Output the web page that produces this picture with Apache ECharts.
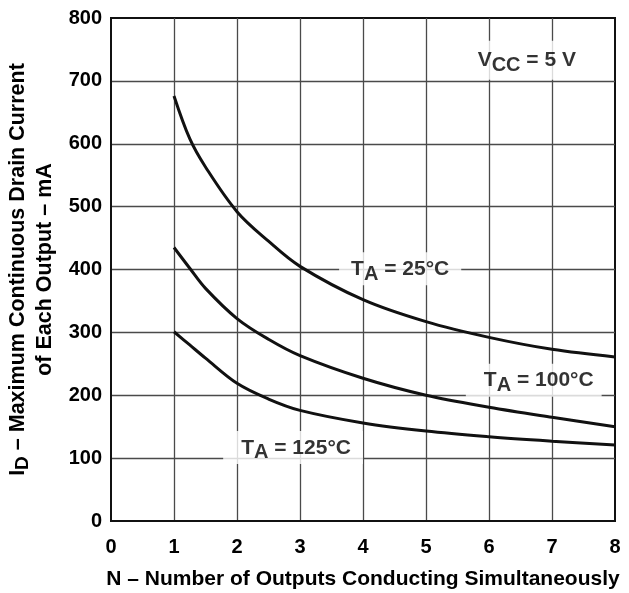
<!DOCTYPE html>
<html>
<head>
<meta charset="utf-8">
<script src="https://cdn.jsdelivr.net/npm/echarts@6/dist/echarts.min.js"></script>
<style>
  html, body { margin: 0; padding: 0; background: #fff; }
  #chart { width: 629px; height: 593px; }
</style>
</head>
<body>
<div id="chart"></div>
<script>
  // readings from the figure
  const outputsN = [1, 1.25, 1.5, 2, 2.5, 3, 4, 5, 6, 7, 8];
  const ta25 = [676, 608, 563, 492, 445, 405, 352, 317, 292, 273, 261];
  const ta100 = [435, 402, 370, 322, 289, 263, 227, 200, 181, 165, 150];
  const ta125 = [301, 280, 259, 219, 194, 176, 156, 143, 134, 127, 121];
  const xTicks = [0, 1, 2, 3, 4, 5, 6, 7, 8];
  const yTicks = [0, 100, 200, 300, 400, 500, 600, 700, 800];

  // annotation anchors in data units
  const notes = [
    { name: 'ta25', at: [4.59, 401], main: 'T', sub: 'A', rest: ' = 25°C', pad: [2, 12, 1, 12] },
    { name: 'ta100', at: [6.71, 224], main: 'T', sub: 'A', rest: ' = 100°C', pad: [2, 8, 1, 18] },
    { name: 'ta125', at: [2.89, 117], main: 'T', sub: 'A', rest: ' = 125°C', pad: [2, 12, 1, 18] },
    { name: 'vcc', at: [6.6, 733], main: 'V', sub: 'CC', rest: ' = 5 V', pad: [5, 12, 4, 12] }
  ];

  const FONT = '"Liberation Sans", Arial, Helvetica, sans-serif';

  function pairs(ys) {
    return outputsN.map(function (x, i) { return [x, ys[i]]; });
  }

  function curve(name, ys) {
    return {
      name: name,
      type: 'line',
      data: pairs(ys),
      smooth: 0.35,
      showSymbol: false,
      lineStyle: { color: '#111', width: 3 },
      z: 3,
      silent: true
    };
  }

  const noteRich = {
    m: { fontFamily: FONT, fontWeight: 'bold', fontSize: 21, color: '#000', lineHeight: 30 },
    s: { fontFamily: FONT, fontWeight: 'bold', fontSize: 20, color: '#000', lineHeight: 16, verticalAlign: 'bottom' }
  };

  const myChart = echarts.init(document.getElementById('chart'), null, { renderer: 'canvas' });
  const option = {
    backgroundColor: '#fff',
    animation: false,
    grid: {
      left: 111, right: 14, top: 18, bottom: 72,
      containLabel: false,
      outerBoundsMode: 'none',
      show: true,
      borderColor: '#111',
      borderWidth: 2
    },
    xAxis: {
      type: 'value',
      min: xTicks[0],
      max: xTicks[xTicks.length - 1],
      interval: 1,
      name: 'N – Number of Outputs Conducting Simultaneously',
      nameLocation: 'middle',
      nameGap: 48,
      nameTextStyle: { fontFamily: FONT, fontWeight: 'bold', fontSize: 21, color: '#000' },
      axisLine: { lineStyle: { color: '#111', width: 2 } },
      axisTick: { show: false },
      axisLabel: { fontFamily: FONT, fontWeight: 'bold', fontSize: 20, color: '#000', margin: 16 },
      splitLine: { show: true, showMinLine: false, showMaxLine: false, lineStyle: { color: '#4a4a4a', width: 1.3 } }
    },
    yAxis: {
      type: 'value',
      min: yTicks[0],
      max: yTicks[yTicks.length - 1],
      interval: 100,
      name: '{m|I}{s|D}{m| – Maximum Continuous Drain Current}\n{m|of Each Output – mA}',
      nameLocation: 'middle',
      nameRotate: 90,
      nameGap: 52,
      nameTextStyle: {
        rich: {
          m: { fontFamily: FONT, fontWeight: 'bold', fontSize: 21.5, color: '#000', lineHeight: 27 },
          s: { fontFamily: FONT, fontWeight: 'bold', fontSize: 19, color: '#000', lineHeight: 14, verticalAlign: 'bottom' }
        }
      },
      axisLine: { show: true, lineStyle: { color: '#111', width: 2 } },
      axisTick: { show: false },
      axisLabel: { fontFamily: FONT, fontWeight: 'bold', fontSize: 20, color: '#000', margin: 9 },
      splitLine: { show: true, showMinLine: false, showMaxLine: false, lineStyle: { color: '#4a4a4a', width: 1.3 } }
    },
    series: [
      curve('TA = 25°C', ta25),
      curve('TA = 100°C', ta100),
      curve('TA = 125°C', ta125),
      {
        name: 'notes',
        type: 'scatter',
        symbolSize: 0,
        silent: true,
        z: 5,
        data: notes.map(function (n) {
          return {
            name: n.name,
            value: n.at,
            label: {
              show: true,
              position: 'inside',
              backgroundColor: '#fff',
              padding: n.pad,
              formatter: '{m|' + n.main + '}{s|' + n.sub + '}{m|' + n.rest + '}',
              rich: noteRich
            }
          };
        })
      }
    ]
  };
  myChart.setOption(option);
</script>
</body>
</html>
